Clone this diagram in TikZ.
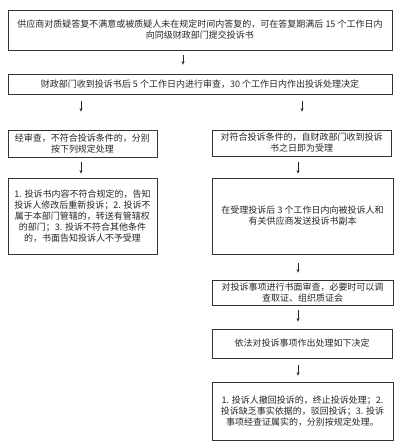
\documentclass[tikz,border=0pt]{standalone}
\usepackage{fontspec}
\newfontfamily\cjk{Noto Sans CJK SC}
\usetikzlibrary{arrows.meta}
\begin{document}
\begin{tikzpicture}[x=1pt,y=-1pt,
  box/.style={draw=black!80, line width=0.7pt, inner sep=0pt, align=center,
    font=\cjk\fontsize{9}{11}\selectfont, text=black!85},
  arr/.style={draw=black!85, line width=0.6pt, -{Stealth[length=3.5pt,width=3pt]}}]
\useasboundingbox[fill=white] (0,0) rectangle (400,448);
% boxes: centre x, centre y, width, height
\node[box, minimum width=384pt, minimum height=40pt] (b1) at (200,30)
  {供应商对质疑答复不满意或被质疑人未在规定时间内答复的，可在答复期满后 15 个工作日内\\向同级财政部门提交投诉书};
\node[box, minimum width=384pt, minimum height=20pt] (b2) at (200,84)
  {财政部门收到投诉书后 5 个工作日内进行审查，30 个工作日内作出投诉处理决定};
\node[box, minimum width=149pt, minimum height=27pt] (b3) at (82.5,143.5)
  {经审查，不符合投诉条件的，分别\\按下列规定处理};
\node[box, minimum width=179pt, minimum height=26pt] (b4) at (301.5,143)
  {对符合投诉条件的，自财政部门收到投诉\\书之日即为受理};
\node[box, minimum width=149pt, minimum height=76pt] (b5) at (82.5,216)
  {1. 投诉书内容不符合规定的，告知\\投诉人修改后重新投诉；2. 投诉不\\属于本部门管辖的，转送有管辖权\\的部门；3. 投诉不符合其他条件\\的，书面告知投诉人不予受理};
\node[box, minimum width=181pt, minimum height=76pt] (b6) at (302.5,216)
  {在受理投诉后 3 个工作日内向被投诉人和\\有关供应商发送投诉书副本};
\node[box, minimum width=181pt, minimum height=25pt] (b7) at (302.5,292.5)
  {对投诉事项进行书面审查，必要时可以调\\查取证、组织质证会};
\node[box, minimum width=180pt, minimum height=29pt] (b8) at (302,343.5)
  {依法对投诉事项作出处理如下决定};
\node[box, minimum width=181pt, minimum height=58pt] (b9) at (302.5,411)
  {1. 投诉人撤回投诉的，终止投诉处理；2.\\投诉缺乏事实依据的，驳回投诉；3. 投诉\\事项经查证属实的，分别按规定处理。};
% arrow x positions
\coordinate (xa) at (183,0);
\coordinate (xl) at (81,0);
\coordinate (xr) at (302,0);
\coordinate (xs) at (298,0);
\draw[arr, shorten <=5pt, shorten >=9pt] (b1.south -| xa) -- (b2.north -| xa);
\draw[arr, shorten <=7pt, shorten >=18pt] (b2.south -| xl) -- (b3.north -| xl);
\draw[arr, shorten <=7pt, shorten >=18pt] (b2.south -| xr) -- (b4.north -| xr);
\draw[arr, shorten <=5pt, shorten >=4pt] (b3.south -| xl) -- (b5.north -| xl);
\draw[arr, shorten <=6pt, shorten >=4pt] (b4.south -| xs) -- (b6.north -| xs);
\draw[arr, shorten <=9pt, shorten >=7pt] (b6.south -| xs) -- (b7.north -| xs);
\draw[arr, shorten <=5pt, shorten >=7pt] (b7.south -| xs) -- (b8.north -| xs);
\draw[arr, shorten <=7pt, shorten >=6pt] (b8.south -| xs) -- (b9.north -| xs);
\end{tikzpicture}
\end{document}
